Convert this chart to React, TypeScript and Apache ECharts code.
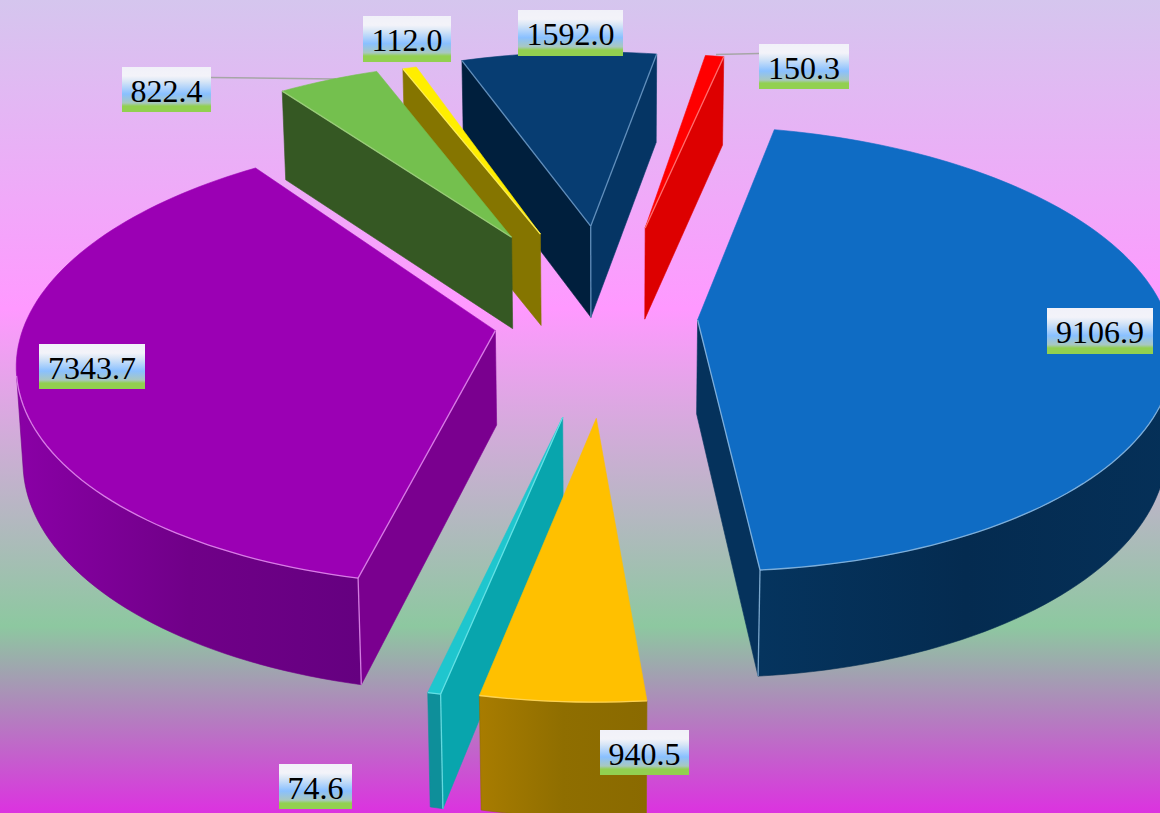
import React, { useEffect, useRef } from "react";
import * as echarts from "echarts";

// Data
const sliceValues = [9106.9, 940.5, 74.6, 7343.7, 822.4, 112.0, 1592.0, 150.3];

// Per-slice styling
const topColors = ["#0f6cc4", "#ffc000", "#1fc6ce", "#9b00b4", "#74c04e", "#ffee00", "#073d72", "#ff0000"];
const startWallColors = ["#042f59", "#8c6c00", "#08a5ad", "#7a008f", "#355823", "#857500", "#001f3d", "#d80000"];
const endWallColors = ["#05325c", "#8c6c00", "#08a5ad", "#7a008f", "#355823", "#857500", "#053564", "#dd0000"];
const outerLeftColors = ["#05345e", "#a87c00", "#0e8f9a", "#8a00a6", "#355823", "#857500", "#053564", "#d80000"];
const outerMidColors = ["#042b50", "#8f6e00", "#0e8f9a", "#700088", "#355823", "#857500", "#053564", "#d80000"];
const outerRightColors = ["#053058", "#8a6a00", "#0e8f9a", "#650080", "#355823", "#857500", "#053564", "#d80000"];
const edgeColors = ["#8fbbe0", "#ffd860", "#70e6ea", "#e490f0", "#a0d080", "#fff060", "#6f9cc8", "#ff8080"];

// Excel-like per-point explosion (fraction of radius)
const explosions = [0.191, 0.425, 0.43, 0.243, 0.452, 0.44, 0.455, 0.452];
// Small extra shift of a slice away from the viewer (fraction of radius)
const depthShifts = [0.012, 0, 0, 0, 0, 0, 0, 0];
// Painter's order: lower is drawn first
const paintRanks = [6, 8, 7, 5, 4, 3, 1, 2];

// Data label boxes: [left, top, width, height]
const labelBoxes = [
  [1047, 308, 106, 46],
  [600, 730, 89, 45],
  [279, 764, 73, 45],
  [39, 344, 106, 45],
  [122, 67, 89, 45],
  [363, 16, 88, 46],
  [518, 10, 105, 46],
  [759, 44, 90, 45],
];
// Leader lines: slice index -> [x1, y1, x2, y2]
const leaderLines: Record<number, number[]> = {
  4: [211, 77.5, 336, 79],
  7: [716, 54.5, 759, 53.5],
};

// Projection of the tilted pie
const START_ANGLE = 12;
const CX = 608;
const CY = 320;
const RADIUS_X = 470;
const RADIUS_Y = 219;
const PERSPECTIVE = 0.129;

const total = sliceValues.reduce((a, b) => a + b, 0);
const rad = (d: number) => (d * Math.PI) / 180;

function project(x: number, y: number, down: boolean): number[] {
  const s = 1 / (1 + PERSPECTIVE * y);
  const X = CX + RADIUS_X * x * s;
  const Y = CY - RADIUS_Y * y * s;
  if (!down) return [X, Y];
  const d = s - 1;
  const h = 94 + 60 * d + 150 * d * d;
  return [CX + (X - CX) * (1 - h * 0.00012), Y + h];
}

const facing = (q: number[][]) => {
  let a = 0;
  for (let i = 0; i < q.length; i++) {
    const p = q[i];
    const n = q[(i + 1) % q.length];
    a += p[0] * n[1] - n[0] * p[1];
  }
  return a < 0;
};

function renderSlice(params: any, api: any) {
  const i: number = params.dataIndex;
  const value: number = api.value(0);
  let before = 0;
  for (let k = 0; k < i; k++) before += sliceValues[k];
  const a0 = START_ANGLE + (before / total) * 360;
  const sweep = (value / total) * 360;
  const a1 = a0 + sweep;
  const mid = rad((a0 + a1) / 2);
  const e = explosions[i];
  const ox = e * Math.sin(mid);
  const oy = e * Math.cos(mid) + depthShifts[i];
  const top = (t: number) => project(ox + Math.sin(rad(t)), oy + Math.cos(rad(t)), false);
  const bot = (t: number) => project(ox + Math.sin(rad(t)), oy + Math.cos(rad(t)), true);
  const apexT = project(ox, oy, false);
  const apexB = project(ox, oy, true);

  const steps = Math.max(2, Math.ceil(sweep / 1.5));
  const angles: number[] = [];
  for (let k = 0; k <= steps; k++) angles.push(a0 + (sweep * k) / steps);

  const z = paintRanks[i] * 10;
  const children: any[] = [];
  const poly = (points: number[][], fill: any, strokeCol: string, z2: number) =>
    children.push({
      type: "polygon",
      z2,
      shape: { points },
      style: { fill, stroke: strokeCol, lineWidth: 0.6 },
    });
  const line = (points: number[][], z2: number) =>
    children.push({
      type: "polyline",
      z2,
      shape: { points },
      style: { fill: "none", stroke: edgeColors[i], lineWidth: 1.3, opacity: 0.85 },
    });

  // walls
  const startQuad = [apexT, top(a0), bot(a0), apexB];
  const endQuad = [top(a1), apexT, apexB, bot(a1)];
  const startVis = facing(startQuad);
  const endVis = facing(endQuad);
  if (startVis) poly(startQuad, startWallColors[i], startWallColors[i], z);
  if (endVis) poly(endQuad, endWallColors[i], endWallColors[i], z);

  // outer rim: only the part that faces the viewer
  const vis: number[] = [];
  for (let k = 0; k < steps; k++) {
    const q = [top(angles[k]), top(angles[k + 1]), bot(angles[k + 1]), bot(angles[k])];
    if (facing(q)) {
      if (!vis.length) vis.push(angles[k]);
      vis.push(angles[k + 1]);
    }
  }
  if (vis.length > 1) {
    const upper = vis.map(top);
    const lower = vis.map(bot).reverse();
    const grad = new echarts.graphic.LinearGradient(0, 0, 1, 0, [
      { offset: 0, color: outerLeftColors[i] },
      { offset: 0.5, color: outerMidColors[i] },
      { offset: 1, color: outerRightColors[i] },
    ]);
    poly(upper.concat(lower), grad, outerMidColors[i], z + 1);
  }

  // top face
  const rim = angles.map(top);
  poly([apexT, ...rim], topColors[i], topColors[i], z + 2);

  // bright edges
  if (vis.length > 1) {
    line(vis.map(top), z + 3);
    if (Math.abs(vis[0] - a0) < 1e-6 && startVis) line([top(a0), bot(a0)], z + 3);
    if (Math.abs(vis[vis.length - 1] - a1) < 1e-6 && endVis) line([top(a1), bot(a1)], z + 3);
  }
  if (startVis) line([apexT, top(a0)], z + 3);
  if (endVis) line([apexT, top(a1)], z + 3);
  if (startVis && endVis) line([apexT, apexB], z + 3);

  // leader line
  const ll = leaderLines[i];
  if (ll) {
    children.push({
      type: "line",
      z2: 5,
      shape: { x1: ll[0], y1: ll[1], x2: ll[2], y2: ll[3] },
      style: { stroke: "#a6a6a6", lineWidth: 1.4 },
    });
  }

  // data label
  const [bx, by, bw, bh] = labelBoxes[i];
  children.push({
    type: "rect",
    z2: 300,
    shape: { x: bx, y: by, width: bw, height: bh },
    style: {
      fill: new echarts.graphic.LinearGradient(0, 0, 0, 1, [
        { offset: 0, color: "#f1f1f9" },
        { offset: 0.2, color: "#f3f3f9" },
        { offset: 0.32, color: "#d8e6f6" },
        { offset: 0.6, color: "#89c0ff" },
        { offset: 0.8, color: "#a8c8c0" },
        { offset: 0.87, color: "#92d050" },
        { offset: 1, color: "#92d050" },
      ]),
    },
  });
  children.push({
    type: "text",
    z2: 301,
    style: {
      text: value.toFixed(1),
      x: bx + bw / 2,
      y: by + bh / 2 + 1,
      align: "center",
      verticalAlign: "middle",
      fill: "#000000",
      font: '32px "Liberation Serif"',
    },
  });

  return { type: "group", children };
}

export default function App() {
  const ref = useRef<HTMLDivElement>(null);
  useEffect(() => {
    document.body.style.margin = "0";
    const chart = echarts.init(ref.current!, undefined, { renderer: "svg" });
    chart.setOption({
      animation: false,
      backgroundColor: new echarts.graphic.LinearGradient(0, 0, 0, 1, [
        { offset: 0, color: "#d5c6ee" },
        { offset: 0.38, color: "#ff99ff" },
        { offset: 0.77, color: "#8dc8a0" },
        { offset: 1, color: "#dc32e0" },
      ]),
      series: [
        {
          type: "custom",
          coordinateSystem: "none",
          silent: true,
          clip: false,
          data: sliceValues.map((v) => [v]),
          renderItem: renderSlice,
        },
      ],
    });
    return () => chart.dispose();
  }, []);
  return <div ref={ref} style={{ width: 1160, height: 813, position: "absolute", left: 0, top: 0 }} />;
}
